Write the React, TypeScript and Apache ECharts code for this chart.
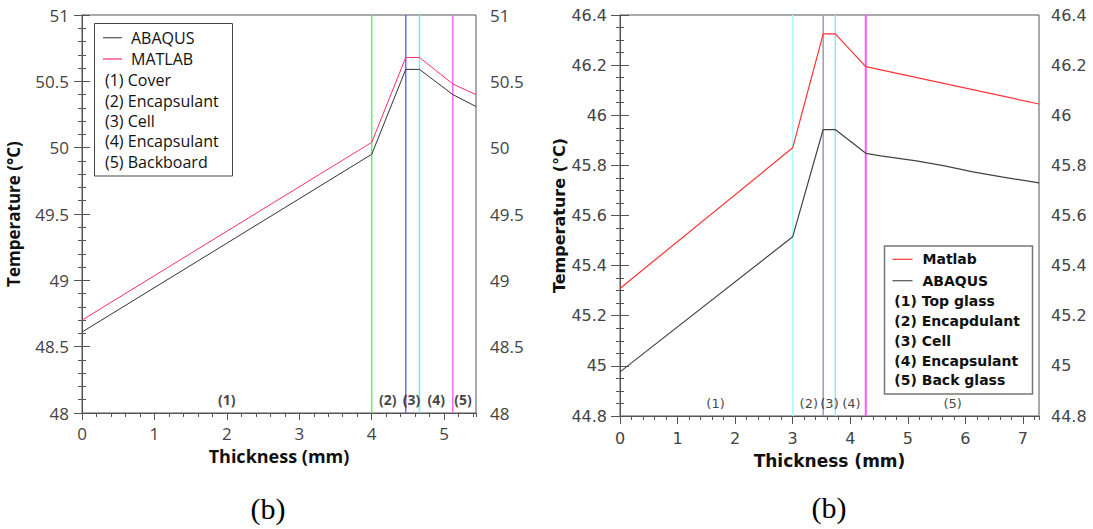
import React, { useEffect, useRef } from "react";
import * as echarts from "echarts";

// ---------- Left chart data ----------
const leftThickness = [0, 4, 4.47, 4.66, 5.12, 5.44];
const leftAbaqus = [48.61, 49.95, 50.59, 50.59, 50.4, 50.31];
const leftMatlab = [48.7, 50.04, 50.68, 50.68, 50.48, 50.4];
const leftBoundaries = [4, 4.47, 4.66, 5.12];
const leftBoundaryColors = ["#66ee66", "#6a6aff", "#66eeff", "#ff66ff"];
const leftRegionLabels = ["(1)", "(2)", "(3)", "(4)", "(5)"];
const leftRegionX = [2, 4.22, 4.55, 4.89, 5.26];
const leftRegionY = 48.1;
const leftSeriesNames = ["ABAQUS", "MATLAB"];
const leftLayerNames = ["(1) Cover", "(2) Encapsulant", "(3) Cell", "(4) Encapsulant", "(5) Backboard"];

// ---------- Right chart data ----------
const rightMatlabX = [0, 3, 3.53, 3.74, 4.27, 7.28];
const rightMatlab = [45.309, 45.87, 46.325, 46.325, 46.194, 46.045];
const rightAbaqusX = [0, 3, 3.53, 3.74, 4.27, 4.53, 5.15, 5.64, 6.13, 6.63, 7.28];
const rightAbaqus = [44.976, 45.515, 45.943, 45.943, 45.848, 45.838, 45.818, 45.798, 45.774, 45.754, 45.73];
const rightBoundaries = [3, 3.53, 3.74, 4.27];
const rightBoundaryColors = ["#aaffff", "#9999bb", "#88eeee", "#ff55ff"];
const rightRegionLabels = ["(1)", "(2)", "(3)", "(4)", "(5)"];
const rightRegionX = [1.66, 3.28, 3.64, 4.02, 5.78];
const rightRegionY = 44.85;
const rightSeriesNames = ["Matlab", "ABAQUS"];
const rightLayerNames = ["(1) Top glass", "(2) Encapdulant", "(3) Cell", "(4) Encapsulant", "(5) Back glass"];

const caption = "(b)";

const zip = (xs: number[], ys: number[]) => xs.map((x, i) => [x, ys[i]]);

const LF = "'Open Sans', sans-serif";
const RF = "'DejaVu Sans', sans-serif";
const AXIS = "#555";

function yAxes(gridIndex: number, min: number, max: number, interval: number, split: number, font: string, size: number, name: string, nameGap: number, nameSize: number, tickLen: number, minorLen: number, marginL: number, marginR: number) {
  const base = {
    type: "value",
    gridIndex,
    min,
    max,
    interval,
    axisLine: { show: true, lineStyle: { color: AXIS, width: 1 } },
    axisTick: { show: true, inside: false, length: tickLen, lineStyle: { color: AXIS } },
    minorTick: { show: true, splitNumber: split, length: minorLen, lineStyle: { color: AXIS } },
    splitLine: { show: false },
    minorSplitLine: { show: false },
  };
  return [
    {
      ...base,
      position: "left",
      name,
      nameLocation: "middle",
      nameGap,
      nameTextStyle: { fontFamily: font, fontWeight: "bold", fontSize: nameSize, color: "#111" },
      axisLabel: { fontFamily: font, fontSize: size, color: "#444", margin: marginL },
    },
    {
      ...base,
      position: "right",
      axisLabel: { fontFamily: font, fontSize: size, color: "#444", margin: marginR },
    },
  ];
}

function xAxes(gridIndex: number, max: number, font: string, size: number, name: string, nameGap: number, nameSize: number, tickLen: number, minorLen: number, margin: number) {
  return [
    {
      type: "value",
      gridIndex,
      min: 0,
      max,
      interval: 1,
      position: "bottom",
      name,
      nameLocation: "middle",
      nameGap,
      nameTextStyle: { fontFamily: font, fontWeight: "bold", fontSize: nameSize, color: "#111" },
      axisLine: { show: true, lineStyle: { color: AXIS, width: 1 } },
      axisTick: { show: true, length: tickLen, lineStyle: { color: AXIS } },
      axisLabel: { fontFamily: font, fontSize: size, color: "#444", margin, showMaxLabel: false },
      splitLine: { show: false },
    },
    {
      type: "value",
      gridIndex,
      min: 0,
      max,
      interval: 0.2,
      position: "bottom",
      axisLine: { show: false },
      axisTick: { show: true, length: minorLen, lineStyle: { color: AXIS } },
      axisLabel: { show: false },
      splitLine: { show: false },
    },
  ];
}

function boundarySeries(xs: number[], colors: string[], xi: number, yi: number, ymin: number, ymax: number, width: number[]) {
  return xs.map((x, i) => ({
    type: "line",
    xAxisIndex: xi,
    yAxisIndex: yi,
    data: [[x, ymin], [x, ymax]],
    symbol: "none",
    silent: true,
    lineStyle: { color: colors[i], width: width[i] },
    z: 1,
  }));
}

function regionSeries(labels: string[], xs: number[], y: number, xi: number, yi: number, font: string, size: number, weight: string) {
  return {
    type: "scatter",
    xAxisIndex: xi,
    yAxisIndex: yi,
    symbolSize: 0,
    silent: true,
    data: labels.map((l, i) => ({ name: l, value: [xs[i], y] })),
    label: {
      show: true,
      position: "inside",
      formatter: (p: any) => p.name,
      fontFamily: font,
      fontSize: size,
      fontWeight: weight,
      color: "#111",
    },
  };
}

function legendGraphic(
  box: { x: number; y: number; w: number; h: number },
  lineX: number, lineW: number, textX: number, layerX: number,
  rows: number[], names: string[], colors: string[], layers: string[],
  font: string, size: number, weight: string, border: string, borderW: number
) {
  const txt = (t: string, x: number, y: number) => ({
    type: "text",
    x,
    y,
    style: { text: t, fontFamily: font, fontSize: size, fontWeight: weight, fill: "#111", verticalAlign: "middle", lineHeight: size },
    z: 101,
  });
  const els: any[] = [
    { type: "rect", shape: { x: box.x, y: box.y, width: box.w, height: box.h }, style: { fill: "#fff", stroke: border, lineWidth: borderW }, z: 100 },
  ];
  names.forEach((n, i) => {
    els.push({ type: "line", shape: { x1: lineX, y1: rows[i], x2: lineX + lineW, y2: rows[i] }, style: { stroke: colors[i], lineWidth: 1.2 }, z: 101 });
    els.push(txt(n, textX, rows[i]));
  });
  layers.forEach((n, i) => {
    els.push(txt(n, layerX, rows[names.length + i]));
  });
  return els;
}

export default function App() {
  const ref = useRef<HTMLDivElement>(null);
  useEffect(() => {
    if (!ref.current) return;
    const chart = echarts.init(ref.current, undefined, { renderer: "svg" });
    const option: any = {
      animation: false,
      backgroundColor: "#fff",
      grid: [
        { left: 82, top: 15, width: 394, height: 398, show: true, borderColor: AXIS, borderWidth: 1, backgroundColor: "transparent" },
        { left: 620, top: 15, width: 419, height: 401, show: true, borderColor: AXIS, borderWidth: 1, backgroundColor: "transparent" },
      ],
      xAxis: [
        ...xAxes(0, 5.44, LF, 17, "Thickness (mm)", 31, 18, 7, 4, 12),
        ...xAxes(1, 7.28, RF, 16, "Thickness (mm)", 36, 17, 8, 4, 14),
      ],
      yAxis: [
        ...yAxes(0, 48, 51, 0.5, 5, LF, 17, "Temperature (°C)", 60, 17, 8, 4, 13, 14),
        ...yAxes(1, 44.8, 46.4, 0.2, 4, RF, 16, "Temperature (°C)", 52, 16, 9, 4, 13, 12),
      ],
      series: [
        ...boundarySeries(leftBoundaries, leftBoundaryColors, 0, 0, 48, 51, [1.5, 1.5, 1.5, 1.5]),
        { type: "line", name: leftSeriesNames[0], xAxisIndex: 0, yAxisIndex: 0, data: zip(leftThickness, leftAbaqus), symbol: "none", lineStyle: { color: "#333", width: 1 }, z: 3 },
        { type: "line", name: leftSeriesNames[1], xAxisIndex: 0, yAxisIndex: 0, data: zip(leftThickness, leftMatlab), symbol: "none", lineStyle: { color: "#ff2d6a", width: 1 }, z: 3 },
        regionSeries(leftRegionLabels, leftRegionX, leftRegionY, 0, 0, LF, 14, "bold"),
        ...boundarySeries(rightBoundaries, rightBoundaryColors, 2, 2, 44.8, 46.4, [1.5, 1.5, 1.5, 2]),
        { type: "line", name: rightSeriesNames[0], xAxisIndex: 2, yAxisIndex: 2, data: zip(rightMatlabX, rightMatlab), symbol: "none", lineStyle: { color: "#ff3333", width: 1.2 }, z: 3 },
        { type: "line", name: rightSeriesNames[1], xAxisIndex: 2, yAxisIndex: 2, data: zip(rightAbaqusX, rightAbaqus), symbol: "none", lineStyle: { color: "#444", width: 1.2 }, z: 3 },
        regionSeries(rightRegionLabels, rightRegionX, rightRegionY, 2, 2, RF, 13, "normal"),
      ],
      graphic: [
        ...legendGraphic({ x: 94.5, y: 23.5, w: 138, h: 152.5 }, 103, 19, 131, 105, [37.7, 59, 80, 100.7, 121, 141.3, 162], leftSeriesNames, ["#555", "#ff2d6a"], leftLayerNames, LF, 16, "normal", "#444", 1),
        ...legendGraphic({ x: 884.5, y: 246, w: 148, h: 148 }, 892.5, 20, 922.5, 894.3, [259.3, 280.7, 301, 321, 340.7, 360.7, 380], rightSeriesNames, ["#ff3333", "#555"], rightLayerNames, RF, 14, "bold", "#777", 1.5),
        { type: "text", x: 268, y: 508, style: { text: caption, fontFamily: "'Liberation Serif', serif", fontSize: 30, fill: "#000", align: "center", verticalAlign: "middle" } },
        { type: "text", x: 829, y: 507, style: { text: caption, fontFamily: "'Liberation Serif', serif", fontSize: 30, fill: "#000", align: "center", verticalAlign: "middle" } },
      ],
    };
    chart.setOption(option);
    return () => chart.dispose();
  }, []);
  return <div ref={ref} style={{ position: "fixed", left: 0, top: 0, width: 1093, height: 529, background: "#fff" }} />;
}
